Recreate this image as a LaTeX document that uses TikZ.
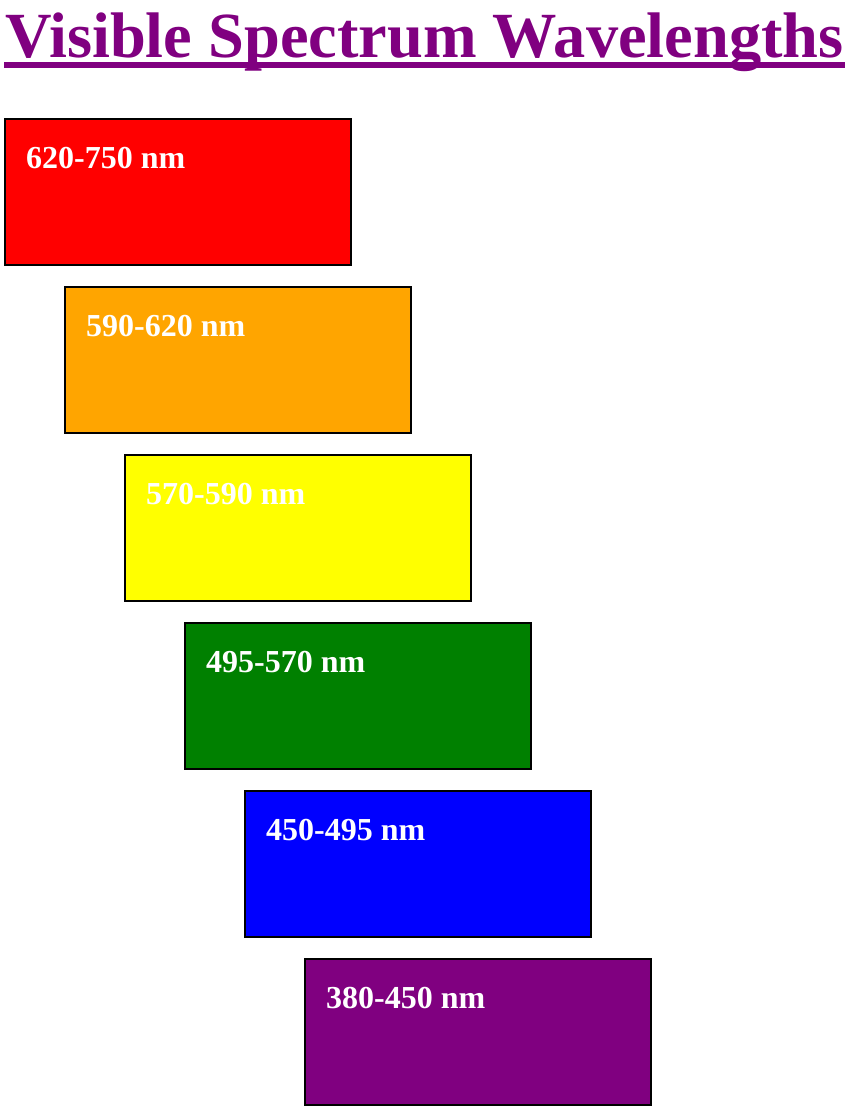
\documentclass[tikz,border=0pt]{standalone}
\usepackage{fontspec}
\setmainfont{Liberation Serif}
\usepackage{tikz}
\usetikzlibrary{positioning}

\definecolor{specred}{RGB}{255,0,0}
\definecolor{specorange}{RGB}{255,165,0}
\definecolor{specyellow}{RGB}{255,255,0}
\definecolor{specgreen}{RGB}{0,128,0}
\definecolor{specblue}{RGB}{0,0,255}
\definecolor{specpurple}{RGB}{128,0,128}

\tikzset{
band/.style={draw=black, line width=2pt, rectangle, minimum width=346pt, minimum height=146pt, inner sep=0pt, outer sep=0pt, anchor=north west},
bandtext/.style={text=white, font=\fontsize{32}{38}\selectfont\bfseries, inner sep=0pt, anchor=base west}
}

\begin{document}
\begin{tikzpicture}[x=1pt,y=-1pt]
\useasboundingbox (0,0) rectangle (860,1114);
\node[anchor=base west, inner sep=0pt, text=specpurple, font=\fontsize{64.4}{72}\selectfont\bfseries] (title) at (5,57) {Visible Spectrum Wavelengths};
\fill[specpurple] ([xshift=-1pt,yshift=-5pt]title.base west) rectangle ([xshift=1pt,yshift=-11pt]title.base east);
\foreach \col/\txt [count=\i from 0] in {specred/620-750 nm, specorange/590-620 nm, specyellow/570-590 nm, specgreen/495-570 nm, specblue/450-495 nm, specpurple/380-450 nm} {
\node[band, fill=\col] (band\i) at ({5+60*\i},{119+168*\i}) {};
\node[bandtext] (label\i) at ({26+60*\i},{168+168*\i}) {\txt};
}
\end{tikzpicture}
\end{document}
